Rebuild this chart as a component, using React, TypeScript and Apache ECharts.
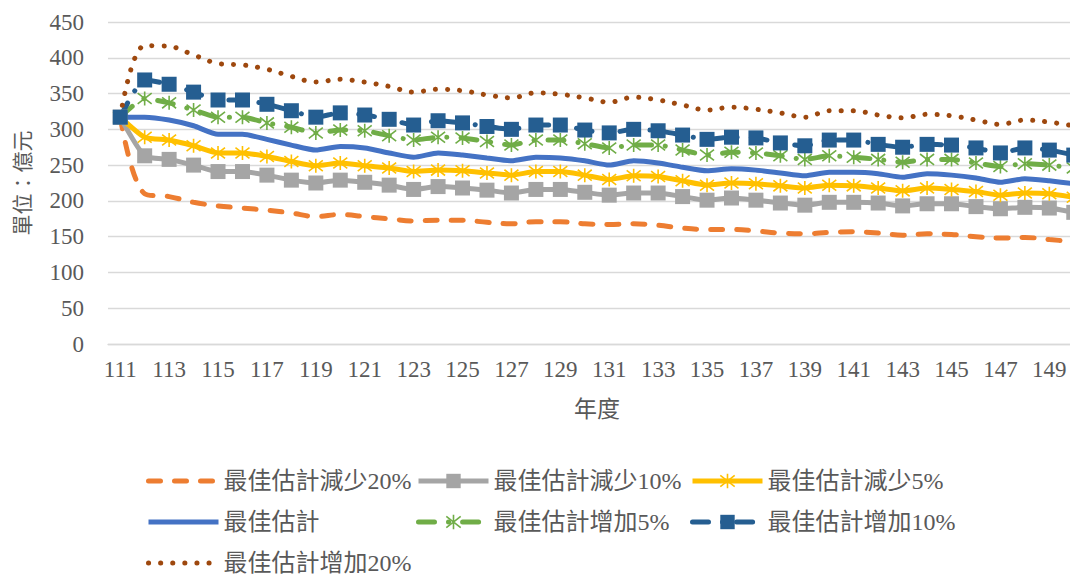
import React, { useEffect, useRef } from "react";
import * as echarts from "echarts";

const years = ["111","112","113","114","115","116","117","118","119","120","121","122","123","124","125","126","127","128","129","130","131","132","133","134","135","136","137","138","139","140","141","142","143","144","145","146","147","148","149","150"];

const dec20 = [317, 210, 206, 198, 193, 190, 187, 183, 178, 181, 178, 175, 172, 173, 173, 170, 168, 171, 171, 168, 167, 168, 166, 162, 160, 160, 158, 155, 154, 156, 157, 155, 152, 154, 153, 150, 148, 149, 146, 143];
const dec10 = [317, 263, 258, 250, 241, 241, 236, 229, 225, 229, 226, 222, 216, 220, 218, 215, 211, 216, 216, 212, 208, 211, 211, 206, 201, 204, 201, 197, 194, 198, 198, 197, 193, 196, 196, 192, 189, 191, 190, 184];
const dec5 = [317, 289, 285, 277, 267, 267, 262, 255, 249, 253, 249, 246, 241, 243, 242, 239, 236, 241, 241, 236, 230, 235, 234, 228, 222, 225, 224, 221, 218, 222, 221, 218, 214, 218, 216, 213, 208, 211, 210, 205];
const best = [317, 317, 313, 305, 293, 293, 286, 278, 271, 276, 274, 267, 261, 267, 264, 260, 256, 261, 260, 256, 250, 256, 253, 247, 242, 245, 243, 239, 235, 240, 240, 238, 233, 238, 236, 232, 226, 231, 228, 224];
const inc5 = [317, 343, 337, 327, 317, 317, 309, 303, 295, 299, 298, 291, 285, 289, 288, 283, 278, 285, 285, 280, 274, 278, 278, 271, 264, 268, 267, 263, 258, 263, 261, 258, 254, 258, 258, 253, 248, 252, 250, 246];
const inc10 = [317, 369, 363, 352, 341, 341, 335, 326, 317, 323, 320, 314, 306, 312, 309, 304, 300, 306, 306, 299, 295, 300, 298, 292, 286, 289, 288, 281, 277, 285, 285, 279, 275, 279, 278, 274, 267, 274, 271, 264];
const inc20 = [317, 417, 416, 404, 392, 390, 384, 374, 366, 370, 366, 360, 352, 356, 354, 348, 344, 351, 349, 344, 338, 345, 341, 334, 327, 331, 328, 323, 317, 326, 326, 320, 316, 321, 319, 313, 307, 313, 310, 305];

const seriesNames = [
  "最佳估計減少20%",
  "最佳估計減少10%",
  "最佳估計減少5%",
  "最佳估計",
  "最佳估計增加5%",
  "最佳估計增加10%",
  "最佳估計增加20%",
];

const FONT = '"Liberation Serif", "Noto Sans CJK TC", serif';
const TXT = "#595959";
const asterisk = "path://M0,0L10,10M10,0L0,10M5,-1.5L5,11.5";

export default function App() {
  const ref = useRef<HTMLDivElement>(null);
  useEffect(() => {
    if (!ref.current) return;
    const chart = echarts.init(ref.current, null, { renderer: "svg" });

    const legendPos = [
      [146, 469], [416, 469], [690, 469],
      [146, 510], [416, 510], [690, 510],
      [146, 551],
    ];
    const hidden = { color: "rgba(0,0,0,0)", borderWidth: 0, opacity: 0 };
    const legendItemStyles = [
      hidden,
      { color: "#a5a5a5", borderWidth: 0 },
      { color: "#ffc000", borderColor: "#ffc000", borderWidth: 1.6 },
      hidden,
      { color: "#70ad47", borderColor: "#70ad47", borderWidth: 1.6 },
      { color: "#255e91", borderWidth: 0 },
      hidden,
    ];

    const option: any = {
      animation: false,
      backgroundColor: "#ffffff",
      grid: { left: 108, top: 22, right: -16, bottom: 231, containLabel: false, outerBoundsMode: "none" },
      legend: seriesNames.map((n, i) => ({
        data: [n],
        left: legendPos[i][0],
        top: legendPos[i][1],
        padding: 0,
        itemGap: 0,
        itemWidth: 70,
        itemHeight: 18,
        lineStyle: { width: 5 },
        itemStyle: legendItemStyles[i],
        textStyle: { fontSize: 24, color: TXT, fontFamily: FONT },
      })),
      xAxis: {
        type: "category",
        data: years,
        boundaryGap: true,
        name: "年度",
        nameLocation: "middle",
        nameGap: 54,
        nameTextStyle: { fontSize: 23, color: TXT, fontFamily: FONT },
        axisLine: { lineStyle: { color: "#d9d9d9", width: 1.3 } },
        axisTick: { show: false },
        axisLabel: { interval: 1, fontSize: 23, color: TXT, fontFamily: FONT, margin: 14 },
      },
      yAxis: {
        type: "value",
        min: 0,
        max: 450,
        interval: 50,
        name: "單位：億元",
        nameLocation: "middle",
        nameRotate: 90,
        nameGap: 75,
        nameTextStyle: { fontSize: 21, color: TXT, fontFamily: FONT },
        axisLine: { show: false },
        axisTick: { show: false },
        axisLabel: { fontSize: 23, color: TXT, fontFamily: FONT, margin: 24 },
        splitLine: { lineStyle: { color: "#d9d9d9", width: 1.3 } },
      },
      series: [
        {
          name: seriesNames[0], type: "line", data: dec20, smooth: 0.35, symbol: "none",
          lineStyle: { color: "#ed7d31", width: 5, type: [12, 14], cap: "round" },
          itemStyle: { color: "#ed7d31" },
        },
        {
          name: seriesNames[1], type: "line", data: dec10, smooth: 0.2, symbol: "rect", symbolSize: 15, showAllSymbol: true,
          lineStyle: { color: "#a5a5a5", width: 5 },
          itemStyle: { color: "#a5a5a5" },
        },
        {
          name: seriesNames[2], type: "line", data: dec5, smooth: 0.2, symbol: asterisk, symbolSize: 14, showAllSymbol: true,
          lineStyle: { color: "#ffc000", width: 5 },
          itemStyle: { color: "#ffc000", borderColor: "#ffc000", borderWidth: 1.6 },
        },
        {
          name: seriesNames[3], type: "line", data: best, smooth: 0.2, symbol: "none",
          lineStyle: { color: "#4472c4", width: 5 },
          itemStyle: { color: "#4472c4" },
        },
        {
          name: seriesNames[4], type: "line", data: inc5, smooth: 0.2, symbol: asterisk, symbolSize: 14, showAllSymbol: true,
          lineStyle: { color: "#70ad47", width: 5, type: [16, 14, 0.1, 14], cap: "round" },
          itemStyle: { color: "#70ad47", borderColor: "#70ad47", borderWidth: 1.6 },
        },
        {
          name: seriesNames[5], type: "line", data: inc10, smooth: 0.2, symbol: "rect", symbolSize: 15, showAllSymbol: true,
          lineStyle: { color: "#255e91", width: 5, type: [16, 14, 0.1, 14], cap: "round" },
          itemStyle: { color: "#255e91" },
        },
        {
          name: seriesNames[6], type: "line", data: inc20, smooth: 0.35, symbol: "none",
          lineStyle: { color: "#9e480e", width: 5, type: [0.1, 12], cap: "round" },
          itemStyle: { color: "#9e480e" },
        },
      ],
    };
    chart.setOption(option);
    return () => chart.dispose();
  }, []);
  return (
    <div
      ref={ref}
      style={{ position: "fixed", left: 0, top: 0, width: 1070, height: 575, background: "#fff" }}
    />
  );
}
